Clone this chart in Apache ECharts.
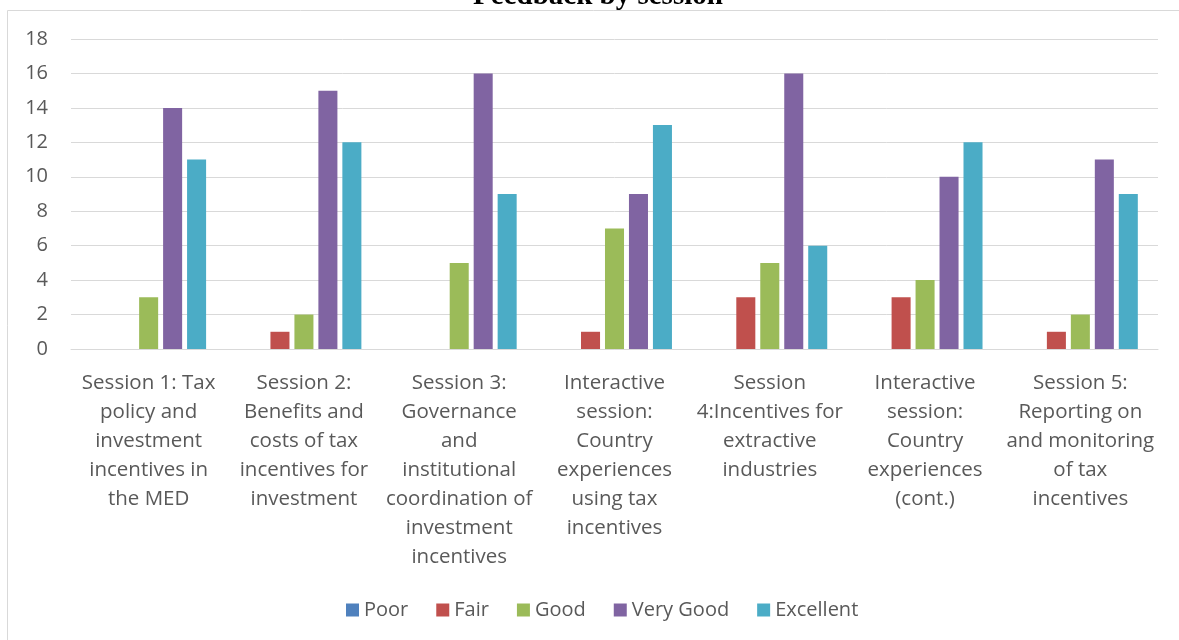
<!DOCTYPE html>
<html lang="en">

<head>
  <meta charset="UTF-8">
  <title>Feedback by session</title>
  <script src="https://cdn.jsdelivr.net/npm/echarts@6/dist/echarts.min.js"></script>
  <style>
    html,
    body {
      margin: 0;
      padding: 0;
      width: 100%;
      height: 100%;
      background: #fff;
    }

    #chart {
      width: 1179px;
      height: 640px;
    }
  </style>
</head>

<body>
  <div id="chart"></div>

  <script>
    // sessions (x axis)
    const sessions = [
      'Session 1: Tax\npolicy and\ninvestment\nincentives in\nthe MED',
      'Session 2:\nBenefits and\ncosts of tax\nincentives for\ninvestment',
      'Session 3:\nGovernance\nand\ninstitutional\ncoordination of\ninvestment\nincentives',
      'Interactive\nsession:\nCountry\nexperiences\nusing tax\nincentives',
      'Session\n4:Incentives for\nextractive\nindustries',
      'Interactive\nsession:\nCountry\nexperiences\n(cont.)',
      'Session 5:\nReporting on\nand monitoring\nof tax\nincentives'
    ];

    // ratings per session
    const poor = [0, 0, 0, 0, 0, 0, 0];
    const fair = [0, 1, 0, 1, 3, 3, 1];
    const good = [3, 2, 5, 7, 5, 4, 2];
    const veryGood = [14, 15, 16, 9, 16, 10, 11];
    const excellent = [11, 12, 9, 13, 6, 12, 9];

    const seriesNames = ['Poor', 'Fair', 'Good', 'Very Good', 'Excellent'];
    const seriesData = [poor, fair, good, veryGood, excellent];
    const colors = ['#4f81bd', '#c0504d', '#9bbb59', '#8064a2', '#4bacc6'];

    const font = 'Open Sans, Noto Sans, sans-serif';

    const chart = echarts.init(document.getElementById('chart'));

    const option = {
      animation: false,
      color: colors,
      graphic: [{
          type: 'rect',
          shape: { x: 7.5, y: 10.5, width: 1200, height: 700 },
          style: { fill: 'none', stroke: '#d9d9d9', lineWidth: 1 },
          z: -1
        },
        {
          type: 'text',
          x: 598,
          y: -18,
          style: {
            text: 'Feedback by session',
            font: 'bold 29px "Liberation Serif", serif',
            fill: '#000',
            align: 'center'
          }
        }
      ],
      grid: {
        left: 71,
        right: 21,
        top: 39,
        bottom: 291
      },
      legend: {
        bottom: 15,
        left: 341,
        itemWidth: 13,
        itemHeight: 13,
        itemGap: 28,
        icon: 'rect',
        textStyle: {
          fontFamily: font,
          fontSize: 20,
          color: '#595959'
        },
        data: seriesNames
      },
      xAxis: {
        type: 'category',
        data: sessions,
        axisLine: { lineStyle: { color: '#d9d9d9', width: 1 } },
        axisTick: { show: false },
        axisLabel: {
          interval: 0,
          margin: 20,
          fontFamily: font,
          fontSize: 20.5,
          lineHeight: 29,
          color: '#595959',
          align: 'center'
        }
      },
      yAxis: {
        type: 'value',
        min: 0,
        max: 18,
        interval: 2,
        axisLine: { show: false },
        axisTick: { show: false },
        splitLine: { lineStyle: { color: '#d9d9d9', width: 1 } },
        axisLabel: {
          margin: 23,
          fontFamily: font,
          fontSize: 20,
          color: '#595959'
        }
      },
      series: seriesNames.map((name, i) => ({
        name: name,
        type: 'bar',
        data: seriesData[i],
        barGap: '26%',
        barCategoryGap: '26%',
        itemStyle: { color: colors[i] }
      }))
    };

    chart.setOption(option);
  </script>
</body>

</html>
